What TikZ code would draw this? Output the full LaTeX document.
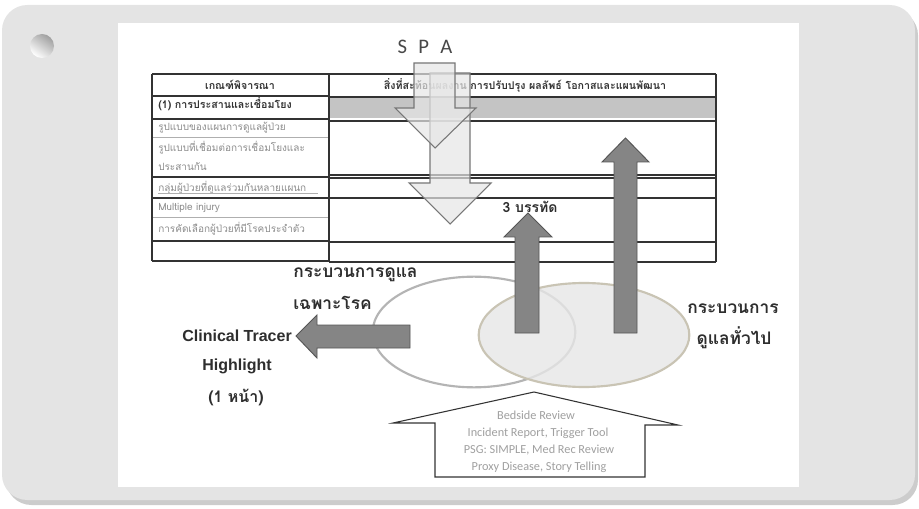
\documentclass[tikz,border=0pt]{standalone}
\usepackage{fontspec}
\setmainfont{Liberation Sans}
\newfontfamily\thai[Script=Thai]{Loma}
\newfontfamily\calfont{Carlito}
\definecolor{cardgray}{HTML}{E4E4E4}
\definecolor{cardshadow}{HTML}{9A9A9A}
\definecolor{gridline}{HTML}{333333}
\definecolor{bandgray}{HTML}{C4C4C4}
\definecolor{paletext}{HTML}{8C8C8C}
\definecolor{darkfill}{HTML}{858585}
\definecolor{darkedge}{HTML}{555555}
\definecolor{lightfill}{HTML}{E6E6E6}
\definecolor{labeltext}{HTML}{2E2E2E}
\definecolor{ringgray}{HTML}{B4B4B4}
\definecolor{ringbeige}{HTML}{C9C4B4}
\definecolor{toolstext}{HTML}{A0A0A0}
\tikzset{
  gridrule/.style={draw=gridline, line width=0.8pt},
  softrule/.style={draw=paletext!70, line width=0.6pt},
  hollowdown/.style={fill=lightfill, fill opacity=0.7, draw=darkedge!80, line width=0.8pt},
  solidarrow/.style={fill=darkfill, draw=darkedge, line width=0.7pt},
  hollowup/.style={fill=white, draw=gridline, line width=0.8pt},
  rowtext/.style={inner sep=0pt, anchor=west, font=\thai\fontsize{7.5}{9}\selectfont, text=paletext},
  headtext/.style={inner sep=0pt, font=\thai\bfseries\fontsize{8}{9}\selectfont, text=gridline},
  bigthai/.style={inner sep=0pt, font=\thai\bfseries\fontsize{13}{15}\selectfont, text=labeltext},
  biglatin/.style={inner sep=0pt, font=\bfseries\fontsize{12}{14}\selectfont, text=labeltext},
  toolline/.style={inner sep=0pt, font=\calfont\fontsize{9.2}{11}\selectfont, text=toolstext},
}
\begin{document}
\begin{tikzpicture}[x=0.75pt,y=-0.75pt]
\useasboundingbox (0,0) rectangle (919,509);

% card with its shadow
\fill[cardshadow, opacity=0.5, rounded corners=19pt] (6,10) rectangle (918,505);
\fill[cardgray, rounded corners=19pt] (2,5) rectangle (915,500);
% punched hole
\shade[top color=gray!75, bottom color=white, shading angle=-35] (42,46) circle[radius=9pt];

% white slide
\fill[white] (118,23) rectangle (799,487);

% table: shaded band of row (1)
\fill[bandgray] (329,98) rectangle (716,118);

% table rules, left column
\foreach \yy in {74,96,119,177,198,241,261}
  \draw[gridrule] (152,\yy) -- (329,\yy);
\draw[softrule] (152,137) -- (329,137);
\draw[softrule] (152,217) -- (329,217);
% table rules, right column
\foreach \yy in {74,97,121,175,178,198,242,262}
  \draw[gridrule] (329,\yy) -- (716,\yy);
% verticals
\draw[gridrule] (152,74) -- (152,261);
\draw[gridrule] (329,74) -- (329,262);
\draw[gridrule] (716,74) -- (716,262);

% table texts
\node[headtext] (hleft) at (240,85) {เกณฑ์พิจารณา};
\node[headtext] (hright) at (525,85) {สิ่งที่สะท้อนผลงาน การปรับปรุง ผลลัพธ์ โอกาสและแผนพัฒนา};
\node[rowtext, text=gridline, font=\thai\bfseries\fontsize{8}{9}\selectfont] (r1) at (158,104) {(1) การประสานและเชื่อมโยง};
\node[rowtext] (r2a) at (158,128) {รูปแบบของแผนการดูแลผู้ป่วย};
\node[rowtext] (r2b) at (158,148) {รูปแบบที่เชื่อมต่อการเชื่อมโยงและ};
\node[rowtext] (r2c) at (158,167) {ประสานกัน};
\node[rowtext] (r3) at (158,188) {กลุ่มผู้ป่วยที่ดูแลร่วมกันหลายแผนก};
\draw[softrule] (158,193) -- (318,193);
\node[rowtext] (r4a) at (158,208) {Multiple injury};
\node[rowtext] (r4b) at (158,229) {การคัดเลือกผู้ป่วยที่มีโรคประจำตัว};

% S P A and its two hollow arrows
\node[inner sep=0pt, font=\calfont\fontsize{15.5}{17}\selectfont, text=darkedge!85!black] (spa) at (425,47) {S\hspace{0.55em}P\hspace{0.55em}A};
\draw[hollowdown] (430,73) -- (470,73) -- (470,183) -- (491,183) -- (450,224) -- (409,183) -- (430,183) -- cycle;
\draw[hollowdown] (414,63) -- (455,63) -- (455,108) -- (476,108) -- (435,148) -- (395,108) -- (414,108) -- cycle;

% the two care processes
\draw[draw=ringgray, line width=1.6pt, fill=white] (474,332) ellipse[x radius=76pt, y radius=41.5pt];
\draw[draw=ringbeige, line width=1.6pt, fill=lightfill, fill opacity=0.8] (584,335) ellipse[x radius=79pt, y radius=39pt];

% solid arrows
\draw[solidarrow] (515,333) -- (515,237) -- (504,237) -- (528,213) -- (552,237) -- (539,237) -- (539,333) -- cycle;
\draw[solidarrow] (614,333) -- (614,162) -- (602,162) -- (625.5,138) -- (649,162) -- (637,162) -- (637,333) -- cycle;
\draw[solidarrow] (410,325) -- (317,325) -- (317,315) -- (296,336) -- (317,358) -- (317,348) -- (410,348) -- cycle;

\node[inner sep=0pt, font=\thai\bfseries\fontsize{10.5}{12}\selectfont, text=labeltext] (three) at (530,207) {3 บรรทัด};

% labels round the ellipses
\node[bigthai, anchor=west] (specific1) at (293,275) {กระบวนการดูแล};
\node[bigthai, anchor=west] (specific2) at (293,303) {เฉพาะโรค};
\node[bigthai] (general1) at (733,309) {กระบวนการ};
\node[bigthai] (general2) at (734,338) {ดูแลทั่วไป};
\node[biglatin, anchor=east] (tracer) at (292,336) {Clinical Tracer};
\node[biglatin] (highlight) at (237,366) {Highlight};
\node[inner sep=0pt, font=\thai\bfseries\fontsize{12}{14}\selectfont, text=labeltext] (onepage) at (236,397) {(1 หน้า)};

% review tools feeding the processes
\draw[hollowup] (435,477) -- (435,423) -- (393,423) -- (534,392) -- (678,425) -- (645,425) -- (645,477) -- cycle;
\node[toolline] (t1) at (536,415) {Bedside Review};
\node[toolline] (t2) at (538,433) {Incident Report, Trigger Tool};
\node[toolline] (t3) at (539,450) {PSG: SIMPLE, Med Rec Review};
\node[toolline] (t4) at (539,467) {Proxy Disease, Story Telling};
\end{tikzpicture}
\end{document}
